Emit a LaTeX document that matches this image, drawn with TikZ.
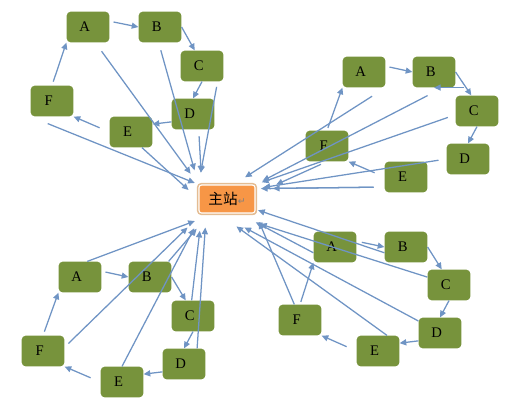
\documentclass[tikz,border=0pt]{standalone}
\usepackage{fontspec}
\setmainfont{Liberation Serif}
\newfontfamily\cjkfont{Noto Sans CJK SC}
\newfontfamily\markfont{DejaVu Sans}
\usepackage{xcolor}
\usetikzlibrary{arrows.meta}
\definecolor{boxgreen}{RGB}{119,147,60}
\definecolor{linkblue}{RGB}{111,148,196}
\definecolor{hubfill}{RGB}{247,150,70}
\definecolor{hubedge}{RGB}{228,188,146}
\definecolor{hubshade}{RGB}{214,166,118}

\begin{document}
\begin{tikzpicture}[x=0.75pt, y=-0.75pt,
        box/.style={rectangle, rounded corners=3pt, fill=boxgreen,
                    minimum width=32pt, minimum height=23pt, inner sep=0pt,
                    font=\fontsize{11}{13}\selectfont,
                    execute at end node={\hspace*{5pt}}},
        hub/.style={rectangle, rounded corners=2pt, fill=hubfill, draw=white,
                    line width=0.8pt,
                    preaction={fill=hubshade, transform canvas={shift={(1.2pt,-1.2pt)}}},
                    preaction={draw=hubedge, line width=3.2pt},
                    minimum width=42pt, minimum height=21pt, inner sep=0pt,
                    font=\fontsize{11}{13}\selectfont},
        link/.style={-{Triangle[length=5pt,width=4.5pt]}, draw=linkblue, line width=0.95pt}
    ]
    \useasboundingbox (0,0) rectangle (516,410);

    \node[hub] (hub) at (227,199) {{\cjkfont 主站}{\markfont\fontsize{7}{7}\selectfont\color{gray}↵}};

    \node[box] (tlA) at (88,27) {A};
    \node[box] (tlB) at (160,27) {B};
    \node[box] (tlC) at (202,66) {C};
    \node[box] (tlD) at (193,114) {D};
    \node[box] (tlE) at (131,132) {E};
    \node[box] (tlF) at (52,101) {F};

    \node[box] (trA) at (364,72) {A};
    \node[box] (trB) at (434,72) {B};
    \node[box] (trC) at (477,111) {C};
    \node[box] (trD) at (468,159) {D};
    \node[box] (trE) at (406,177) {E};
    \node[box] (trF) at (327,146) {F};

    \node[box] (blA) at (80,277) {A};
    \node[box] (blB) at (150,277) {B};
    \node[box] (blC) at (193,316) {C};
    \node[box] (blD) at (184,364) {D};
    \node[box] (blE) at (122,382) {E};
    \node[box] (blF) at (43,351) {F};

    \node[box] (brA) at (335,247) {A};
    \node[box] (brB) at (406,247) {B};
    \node[box] (brC) at (449,285) {C};
    \node[box] (brD) at (440,333) {D};
    \node[box] (brE) at (378,351) {E};
    \node[box] (brF) at (300,320) {F};

    \draw[link, shorten <=3pt] (tlA.15) -- (tlB.west);
    \draw[link] (tlB.east) -- (tlC.115);
    \draw[link] (tlC.south) -- (tlD.north);
    \draw[link] (tlD.200) -- (tlE.20);
    \draw[link, shorten <=8pt] (tlE.west) -- (tlF.south east);
    \draw[link, shorten <=3pt] (tlF.north) -- (tlA.south west);
    \draw[link, shorten <=8pt, shorten >=10pt] (tlA.-65) -- (hub.north west);
    \draw[link, shorten <=6pt, shorten >=11pt] (tlB.-95) -- (hub.north west);
    \draw[link, shorten <=4pt, shorten >=9pt] (tlC.-45) -- (hub.north west);
    \draw[link, shorten <=5pt, shorten >=9pt] (tlD.-70) -- (hub.150);
    \draw[link, shorten >=10pt] (tlE.-55) -- (hub.west);
    \draw[link, shorten <=14pt, shorten >=3pt] (tlF.south west) -- (hub.north west);

    \draw[link, shorten <=2pt] (trF.north) -- (trA.south west);
    \draw[link, shorten <=3pt] (trA.15) -- (trB.west);
    \draw[link] (trB.east) -- (trC.110);
    \draw[link, shorten <=10pt] (trB.south -| trC.north) -- (trB.south);
    \draw[link] (trC.south) -- (trD.north);
    \draw[link, shorten <=8pt] (trE.west) -- (trF.south east);
    \draw[link, shorten <=12pt, shorten >=10pt] (trA.south east) -- (hub.65);
    \draw[link, shorten <=13pt, shorten >=6pt] (trB.-60) -- (hub.north east);
    \draw[link, shorten <=6pt, shorten >=5pt] (trC.190) -- (hub.north east);
    \draw[link, shorten <=6pt, shorten >=6pt] (trD.west) -- (hub.20);
    \draw[link, shorten <=5pt, shorten >=17pt] (trF.south) -- (hub.10);
    \draw[link, shorten <=8pt, shorten >=4pt] (trE.205) -- (hub.20);
    \draw[link, shorten <=8pt, shorten >=13pt] (trE.205) -- (hub.20);

    \draw[link, shorten <=3pt] (blA.15) -- (blB.west);
    \draw[link] (blB.east) -- (blC.115);
    \draw[link] (blC.south) -- (blD.north);
    \draw[link] (blD.200) -- (blE.20);
    \draw[link, shorten <=8pt] (blE.west) -- (blF.south east);
    \draw[link, shorten <=3pt] (blF.north) -- (blA.south west);
    \draw[link, shorten >=16pt] (blA.65) -- (hub.230);
    \draw[link, shorten >=15pt] (blB.40) -- (hub.220);
    \draw[link, shorten >=13pt] (blC.95) -- (hub.210);
    \draw[link, shorten >=10.5pt] (blD.50) -- (hub.215);
    \draw[link, shorten >=12.5pt] (blE.north) -- (hub.210);
    \draw[link, shorten <=4pt, shorten >=15pt] (blF.10) -- (hub.210);

    \draw[link, shorten <=2pt] (brF.north) -- (brA.south west);
    \draw[link, shorten <=4pt] (brA.15) -- (brB.west);
    \draw[link] (brB.east) -- (brC.115);
    \draw[link] (brC.south) -- (brD.north);
    \draw[link] (brD.200) -- (brE.20);
    \draw[link, shorten <=8pt] (brE.west) -- (brF.south east);
    \draw[link, shorten >=14pt] (brA.195) -- (hub.-50);
    \draw[link, shorten >=2pt] (brB.195) -- (hub.-20);
    \draw[link, shorten >=26pt] (brC.160) -- (hub.south);
    \draw[link, shorten >=22pt] (brD.151) -- (hub.-120);
    \draw[link, shorten >=16.5pt] (brE.60) -- (hub.-120);
    \draw[link, shorten >=7pt] (brF.110) -- (hub.south east);
\end{tikzpicture}
\end{document}
